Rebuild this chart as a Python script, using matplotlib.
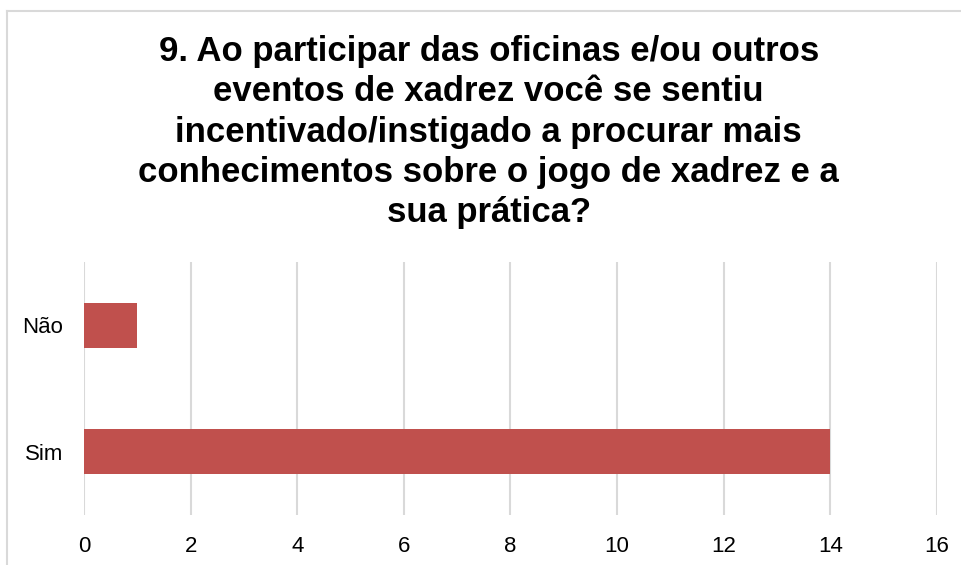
import matplotlib
matplotlib.use("Agg")
import matplotlib.pyplot as plt
from matplotlib.lines import Line2D

categories = ["Sim", "Não"]
values = [14, 1]
xticks = [0, 2, 4, 6, 8, 10, 12, 14, 16]
title = ("9. Ao participar das oficinas e/ou outros\n"
         "eventos de xadrez você se sentiu\n"
         "incentivado/instigado a procurar mais\n"
         "conhecimentos sobre o jogo de xadrez e a\n"
         "sua prática?")

plt.rcParams['font.family'] = ['Liberation Sans', 'DejaVu Sans']

fig = plt.figure(figsize=(9.62, 5.65), dpi=100)
ax = fig.add_axes([0.0873, 0.0885, 0.974 - 0.0873, 0.5363 - 0.0885])

ax.barh(categories, values, height=0.355, color="#C0504D", zorder=3)
ax.set_ylim(-0.5, 1.5)
ax.set_xlim(0, 16)
ax.set_xticks(xticks)
ax.grid(axis="x", color="#D9D9D9", linewidth=1.5, zorder=0)
for s in ax.spines.values():
    s.set_visible(False)
ax.tick_params(axis="x", length=0, pad=15, labelsize=16)
ax.tick_params(axis="y", length=0, pad=15, labelsize=16)

fig.text(0.508, 0.938, title, ha="center", va="top", fontsize=25,
         fontweight="bold", linespacing=1.28)

# chart border (left and top edges visible)
bx = 7.5 / 962
by = 1 - 10.5 / 565
fig.add_artist(Line2D([bx, bx], [0, by], color="#D9D9D9", linewidth=1.5))
fig.add_artist(Line2D([bx, 1], [by, by], color="#D9D9D9", linewidth=1.5))

fig.savefig("out.png", dpi=100)
